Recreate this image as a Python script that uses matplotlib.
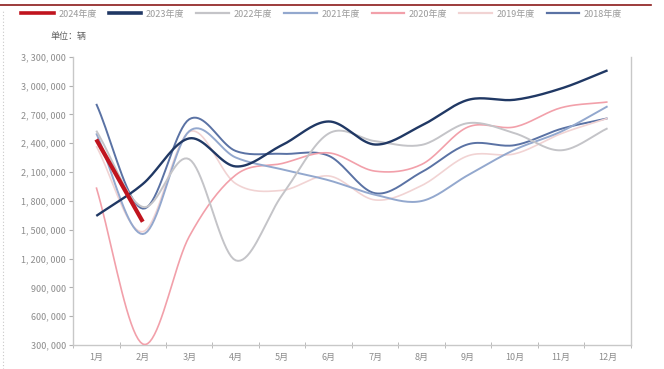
import matplotlib.pyplot as plt
import numpy as np
from matplotlib.lines import Line2D
from matplotlib.ticker import FuncFormatter

plt.rcParams['font.family'] = ['Noto Sans CJK SC', 'DejaVu Sans']

# Monthly vehicle sales (units)
months = ['1月', '2月', '3月', '4月', '5月', '6月', '7月', '8月', '9月', '10月', '11月', '12月']
sales_2024 = [2440000, 1583000]
sales_2023 = [1644000, 1976000, 2451000, 2159000, 2382000, 2627000, 2387000, 2585000, 2852000, 2853000, 2970000, 3159000]
sales_2022 = [2531000, 1737000, 2234000, 1181000, 1862000, 2502000, 2422000, 2383000, 2610000, 2505000, 2327000, 2556000]
sales_2021 = [2503000, 1455000, 2526000, 2252000, 2128000, 2015000, 1864000, 1799000, 2069000, 2333000, 2522000, 2785000]
sales_2020 = [1941000, 310000, 1430000, 2070000, 2190000, 2300000, 2110000, 2180000, 2570000, 2570000, 2770000, 2830000]
sales_2019 = [2370000, 1480000, 2520000, 1980000, 1910000, 2060000, 1810000, 1960000, 2270000, 2290000, 2500000, 2660000]
sales_2018 = [2810000, 1720000, 2650000, 2320000, 2290000, 2270000, 1880000, 2100000, 2390000, 2380000, 2550000, 2660000]

series = [
    ('2024年度', sales_2024, '#C0141E', 3.0),
    ('2023年度', sales_2023, '#203864', 1.7),
    ('2022年度', sales_2022, '#C4C4C8', 1.4),
    ('2021年度', sales_2021, '#93A8CE', 1.4),
    ('2020年度', sales_2020, '#F2A0AA', 1.2),
    ('2019年度', sales_2019, '#F1D3D3', 1.2),
    ('2018年度', sales_2018, '#5A72A4', 1.4),
]


def smooth(x, y, n=20):
    # Catmull-Rom spline through the points, like a spreadsheet "smoothed line"
    x = np.asarray(x, float)
    y = np.asarray(y, float)
    if len(x) < 3:
        return x, y
    px = np.concatenate([[2 * x[0] - x[1]], x, [2 * x[-1] - x[-2]]])
    py = np.concatenate([[2 * y[0] - y[1]], y, [2 * y[-1] - y[-2]]])
    xs, ys = [], []
    t = np.linspace(0, 1, n, endpoint=False)
    for i in range(1, len(px) - 2):
        for p, out in ((px, xs), (py, ys)):
            p0, p1, p2, p3 = p[i - 1], p[i], p[i + 1], p[i + 2]
            out.append(0.5 * (2 * p1 + (-p0 + p2) * t
                              + (2 * p0 - 5 * p1 + 4 * p2 - p3) * t ** 2
                              + (-p0 + 3 * p1 - 3 * p2 + p3) * t ** 3))
    xs.append([x[-1]])
    ys.append([y[-1]])
    return np.concatenate(xs), np.concatenate(ys)


fig = plt.figure(figsize=(6.64, 3.69), dpi=100)
ax = fig.add_axes([0.110, 0.065, 0.840, 0.781])

handles = []
for name, vals, color, lw in series[::-1]:
    xs, ys = smooth(np.arange(len(vals)), vals)
    ax.plot(xs, ys, color=color, lw=lw, solid_capstyle='butt', zorder=3)
for name, vals, color, lw in series:
    handles.append(Line2D([], [], color=color, lw=2.6 if lw > 1.5 else 1.6, label=name))

ax.set_xlim(-0.5, 11.5)
ax.set_ylim(300000, 3300000)
ax.set_yticks(np.arange(300000, 3300001, 300000))
ax.yaxis.set_major_formatter(FuncFormatter(lambda v, p: f'{int(v):,}'.replace(',', ', ')))
ax.set_xticks(np.arange(12))
ax.set_xticklabels(months)
ax.set_xticks(np.arange(-0.5, 12, 1), minor=True)
ax.tick_params(axis='x', which='major', length=0, pad=6, labelsize=6.5, labelcolor='#8C8C8C')
ax.tick_params(axis='x', which='minor', length=4, direction='inout', color='#B0B0B0')
ax.tick_params(axis='y', length=3, color='#B0B0B0', labelsize=6.5, labelcolor='#8C8C8C', pad=2)

for side in ['left', 'bottom', 'right']:
    ax.spines[side].set_color('#C8C8C8')
    ax.spines[side].set_linewidth(1.0)
ax.spines['top'].set_visible(False)

ax.text(-0.041, 1.072, '单位：辆', transform=ax.transAxes, fontsize=6.5, color='#606060', va='center')

fig.legend(handles=handles, loc='center left', bbox_to_anchor=(0.025, 0.962), ncol=7,
           frameon=False, fontsize=6.5, labelcolor='#9A9A9A', handlelength=3.6,
           handletextpad=0.5, columnspacing=1.35, borderpad=0.0)

# header rule and left dotted border
fig.add_artist(Line2D([0.0, 0.98], [0.987, 0.987], color='#8B1A1A', lw=1.2))
fig.add_artist(Line2D([0.005, 0.005], [0.0, 0.97], color='#C8C8C8', lw=0.8, ls=(0, (1, 2))))

fig.savefig('out.png', dpi=100, facecolor='white')
